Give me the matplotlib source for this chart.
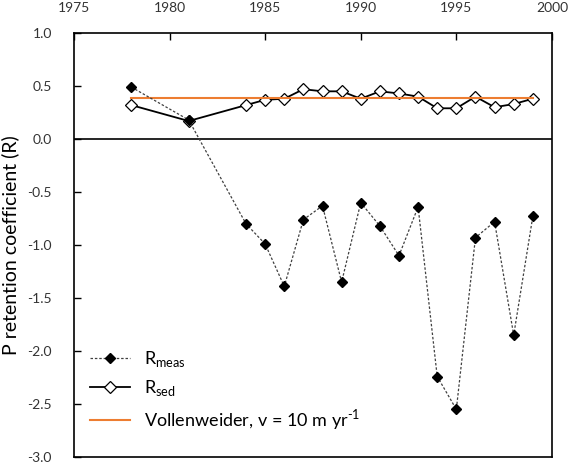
import numpy as np
import matplotlib.pyplot as plt

plt.rcParams['font.family'] = ['Lato', 'DejaVu Sans']
plt.rcParams['mathtext.fontset'] = 'custom'
plt.rcParams['mathtext.rm'] = 'Lato'

years = [1978, 1981, 1984, 1985, 1986, 1987, 1988, 1989, 1990,
         1991, 1992, 1993, 1994, 1995, 1996, 1997, 1998, 1999]
r_meas = [0.49, 0.18, -0.80, -0.99, -1.39, -0.76, -0.63, -1.35, -0.60,
          -0.82, -1.10, -0.64, -2.24, -2.55, -0.93, -0.78, -1.85, -0.73]
r_sed = [0.32, 0.17, 0.32, 0.37, 0.38, 0.47, 0.45, 0.45, 0.38,
         0.45, 0.43, 0.40, 0.29, 0.29, 0.40, 0.30, 0.33, 0.38]
r_vollenweider = 0.39

fig = plt.figure(figsize=(5.69, 4.65), dpi=100)
ax = fig.add_axes([0.130, 0.017, 0.840, 0.912])

# measured retention drawn over the sediment series
ax.plot(years, r_meas, linestyle=(0, (2, 1.5)), color='#404040', lw=0.9,
        marker='D', ms=5, mfc='black', mec='black', zorder=4,
        label=r'R$_{\mathregular{meas}}$')
ax.plot(years, r_sed, '-', color='black', lw=1.3, zorder=3,
        marker='D', ms=6.5, mfc='white', mec='black', mew=0.9,
        label=r'R$_{\mathregular{sed}}$')
ax.plot([years[0], years[-1]], [r_vollenweider, r_vollenweider], color='#ed7d31', lw=1.5,
        zorder=3.5, label=r'Vollenweider, v = 10 m yr$^{\text{-1}}$')
ax.axhline(0, color='black', lw=1.2)

ax.set_xlim(1975, 2000)
ax.set_ylim(-3.0, 1.0)
ax.set_xticks(np.arange(1975, 2001, 5))
ax.set_yticks(np.arange(-3.0, 1.01, 0.5))
ax.yaxis.set_major_formatter(plt.FormatStrFormatter('%.1f'))
ax.xaxis.tick_top()
ax.tick_params(axis='both', direction='in', length=5, width=1, labelsize=10,
               colors='black', labelcolor='#333333')
ax.tick_params(axis='y', pad=16)
ax.tick_params(axis='x', pad=14)
for s in ax.spines.values():
    s.set_linewidth(1.2)

ax.set_ylabel('P retention coefficient (R)', fontsize=14, labelpad=6)

ax.legend(loc='lower left', frameon=False, fontsize=13, handlelength=2.2,
          bbox_to_anchor=(0.0, 0.02), labelspacing=0.5, handletextpad=0.8)

fig.savefig('out.png', dpi=100)
